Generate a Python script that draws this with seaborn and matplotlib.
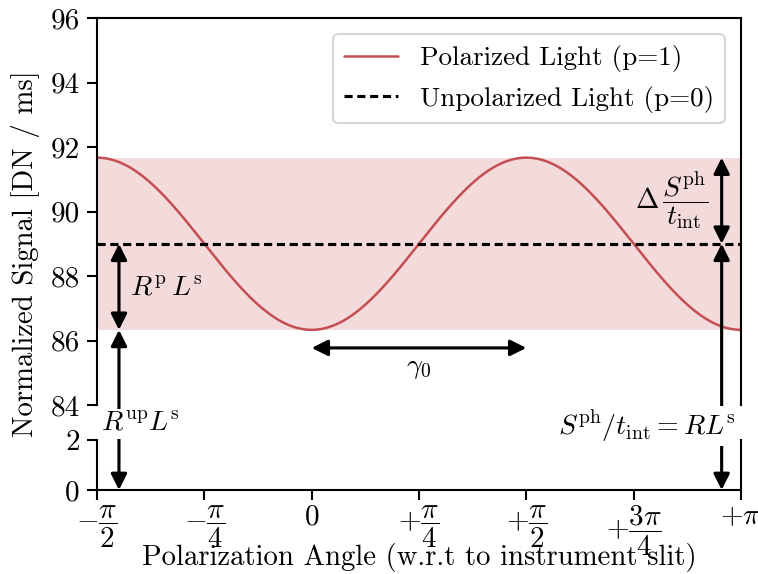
import numpy as np
import pandas as pd
import matplotlib
matplotlib.use("Agg")
import matplotlib.pyplot as plt
import seaborn as sns

# Signal model parameters (DN / ms)
mean_signal = 89.0       # unpolarized level, S^ph / t_int
modulation = 2.67        # half of the peak-to-peak polarized modulation
gamma0 = np.pi / 2       # angular distance between minimum and maximum

# Positions of the vertical annotation arrows (rad)
arrow_left_x = -1.41
arrow_right_x = 3.0

xtick_vals = [-np.pi / 2, -np.pi / 4, 0, np.pi / 4, np.pi / 2, 3 * np.pi / 4, np.pi]
xtick_labels = [r"$-\dfrac{\pi}{2}$", r"$-\dfrac{\pi}{4}$", r"$0$",
                r"$+\dfrac{\pi}{4}$", r"$+\dfrac{\pi}{2}$", r"$+\dfrac{3\pi}{4}$",
                r"$+\pi$"]
upper_yticks = [84, 86, 88, 90, 92, 94, 96]
lower_yticks = [0, 2]

sns.set_theme(style="ticks")
plt.rcParams.update({
    "font.family": "serif",
    "font.serif": ["cmr10"],
    "mathtext.fontset": "cm",
    "axes.formatter.use_mathtext": True,
    "font.size": 13.8,
    "axes.labelsize": 13.8,
    "xtick.labelsize": 14,
    "ytick.labelsize": 14,
    "legend.fontsize": 13,
    "axes.linewidth": 1.0,
    "xtick.major.width": 1.0,
    "ytick.major.width": 1.0,
    "xtick.major.size": 4.8,
    "ytick.major.size": 4.8,
    "axes.edgecolor": "black",
    "xtick.color": "black",
    "ytick.color": "black",
    "text.color": "black",
    "axes.labelcolor": "black",
})

red = sns.color_palette("deep")[3]

angle = np.linspace(-np.pi / 2, np.pi, 600)
signal = mean_signal - modulation * np.cos(2 * angle)
df = pd.DataFrame({"angle": angle, "signal": signal})

W, H = 759, 574
fig = plt.figure(figsize=(W / 150, H / 150), dpi=150)
left, right = 97 / W, 741 / W
ax_up = fig.add_axes([left, 1 - 405 / H, right - left, (405 - 18) / H])
ax_lo = fig.add_axes([left, 1 - 490 / H, right - left, (490 - 440) / H])

# Upper panel: polarized curve, unpolarized level and modulation band
ax_up.axhspan(mean_signal - modulation, mean_signal + modulation,
              color=red, alpha=0.2, lw=0)
sns.lineplot(data=df, x="angle", y="signal", ax=ax_up, color=red, lw=1.2,
             label="Polarized Light (p=1)")
ax_up.axhline(mean_signal, color="black", ls="--", lw=1.5, dashes=(2.6, 1.5),
              label="Unpolarized Light (p=0)")

for ax in (ax_up, ax_lo):
    ax.set_xlim(-np.pi / 2, np.pi)
    ax.set_xlabel("")
    ax.set_ylabel("")

ax_up.set_ylim(84, 96)
ax_up.set_yticks(upper_yticks)
ax_up.set_yticklabels([str(v) for v in upper_yticks])
ax_up.spines["bottom"].set_visible(False)
ax_up.tick_params(axis="x", which="both", bottom=False, labelbottom=False)

ax_lo.set_ylim(0, 2)
ax_lo.set_yticks(lower_yticks)
ax_lo.set_yticklabels([str(v) for v in lower_yticks])
ax_lo.spines["top"].set_visible(False)
ax_lo.set_xticks(xtick_vals)
ax_lo.set_xticklabels(xtick_labels)
ax_lo.tick_params(axis="x", pad=2)
ax_lo.set_xlabel("Polarization Angle (w.r.t to instrument slit)")
ax_lo.xaxis.set_label_coords(0.5, -1.06)

leg = ax_up.legend(loc="upper right", frameon=True, fancybox=True,
                   edgecolor="#cccccc", framealpha=0.8,
                   borderaxespad=0.6)

arrow = dict(arrowstyle="<|-|>", color="black", lw=1.5, mutation_scale=16,
             shrinkA=0, shrinkB=0)

def vertical_arrow(x, y_from, ax_from, y_to, ax_to):
    ax_to.annotate("", xy=(x, y_to), xycoords=ax_to.transData,
                   xytext=(x, y_from), textcoords=ax_from.transData,
                   arrowprops=arrow, annotation_clip=False)

low, high = mean_signal - modulation, mean_signal + modulation

# Left side: polarized part and unpolarized part of the signal
vertical_arrow(arrow_left_x, mean_signal, ax_up, low, ax_up)
vertical_arrow(arrow_left_x, low, ax_up, 0, ax_lo)
ax_up.text(-1.33, 87.63, r"$R^{\mathrm{p}}\,L^{\mathrm{s}}$", ha="left",
           va="center", fontsize=13.4)
ax_lo.text(-1.25, 2.65, r"$R^{\mathrm{up}}L^{\mathrm{s}}$", ha="center",
           va="center", fontsize=13.4, clip_on=False,
           bbox=dict(facecolor="white", edgecolor="none", pad=1))

# Right side: total signal and its modulation
vertical_arrow(arrow_right_x, mean_signal, ax_up, high, ax_up)
vertical_arrow(arrow_right_x, mean_signal, ax_up, 0, ax_lo)
ax_up.text(2.9, 90.36, r"$\Delta\,\dfrac{S^{\mathrm{ph}}}{t_{\mathrm{int}}}$",
           ha="right", va="center", fontsize=13.4)
ax_lo.text(3.1, 2.55, r"$S^{\mathrm{ph}}/t_{\mathrm{int}} = RL^{\mathrm{s}}$",
           ha="right", va="center", fontsize=13.4, clip_on=False,
           bbox=dict(facecolor="white", edgecolor="none", pad=1))

# Horizontal arrow for gamma_0
ax_up.annotate("", xy=(gamma0, 85.77), xytext=(0, 85.77), arrowprops=arrow)
ax_up.text(gamma0 / 2, 85.15, r"$\gamma_0$", ha="center", va="center",
           fontsize=13.4)

fig.text(26 / W, 1 - 254 / H, "Normalized Signal [DN / ms]", rotation=90,
         ha="center", va="center", fontsize=13.8)

fig.savefig("out.png", dpi=150)
